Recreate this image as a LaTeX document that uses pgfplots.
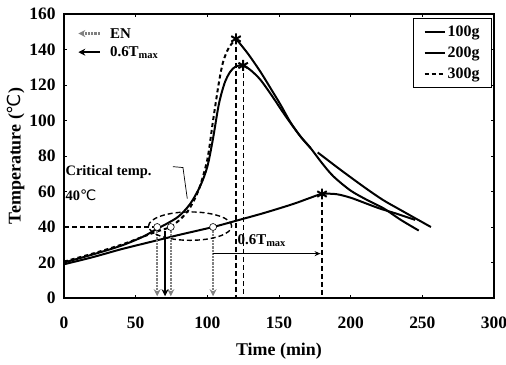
\documentclass[border=0pt]{standalone}
\usepackage{fontspec}
\setmainfont{Liberation Serif}
\newfontfamily\dvs{DejaVu Sans}
\usepackage{pgfplots}
\pgfplotsset{compat=1.18}
\usetikzlibrary{arrows.meta}
\newcommand\degC{{\dvs\mdseries ℃}}
\begin{document}
\begin{tikzpicture}
\begin{axis}[
  name=ax, scale only axis, width=430bp, height=284bp,
  xmin=0, xmax=300, ymin=0, ymax=160,
  xtick={0,50,...,300}, ytick={0,20,...,160},
  /pgf/number format/assume math mode=true,
  tick label style={font=\fontsize{17.5}{17.5}\selectfont\bfseries},
  xticklabel style={yshift=-15bp},
  yticklabel style={xshift=-5bp},
  xlabel={Time (min)}, ylabel={Temperature (\degC)},
  label style={font=\fontsize{18}{18}\selectfont\bfseries},
  xlabel style={yshift=-8bp},
  ylabel style={yshift=-2bp},
  axis line style={line width=1.3pt},
  tick style={black, line width=0.6pt}, major tick length=3bp, tick align=inside,
  legend style={at={(rel axis cs:0.995,0.985)}, anchor=north east, draw=black, line width=0.6pt,
     font=\fontsize{16}{16}\selectfont\bfseries, inner xsep=10bp, inner ysep=5bp, row sep=5bp},
  legend cell align=left,
  legend image code/.code={\draw[#1] (0bp,0bp) -- (20bp,0bp);},
]
% 100g
\addplot[black, line width=2pt, smooth] coordinates {
 (0,19) (20,23) (40,27.5) (60,31.5) (80,35.5) (104,40) (120,43.5) (140,48)
 (160,53) (172,56.5) (180,58.6) (190,58.5) (200,56.5) (210,53.5) (220,50.5)
 (232,47.5) (245,44)};
\addlegendentry{100g}
% 200g
\addplot[black, line width=2pt, smooth] coordinates {
 (0,20) (20,24.5) (40,29.5) (55,34.5) (65,39) (72,42) (80,46) (88,53) (95,63)
 (100,74) (104,90) (108,109) (112,121) (116,127.5) (120,130.5) (125,131)
 (130,128.5) (137,123) (145,114) (155,102) (165,91) (172,84.5)};
\addlegendentry{200g}
% 300g rise
\addplot[black, line width=2pt, dash pattern=on 4bp off 3bp, smooth] coordinates {
 (0,20.5) (20,25) (40,30) (55,34.5) (65,37.5) (74,40) (82,45) (88,51) (94,61)
 (100,78) (104,100) (108,121) (111,133) (115,141) (120,146)};
\addlegendentry{300g}
% 300g decline
\addplot[black, line width=2pt, smooth, forget plot] coordinates {
 (120,146) (128,138) (137,127.5) (145,117) (151,109) (158,99) (165,91)
 (172,84.5) (180,76) (188,68.5) (200,60.5) (212,55) (223,50.5) (235,44) (247.5,38)};
% 200g after gap
\addplot[black, line width=2pt, smooth, forget plot] coordinates {
 (177,82) (190,74) (200,68) (212,61) (223,55) (235,49.5) (246,44.5) (256,40)};
% dashed guide lines
\addplot[black, line width=1.3pt, dash pattern=on 5bp off 3bp, forget plot] coordinates {(0,40) (64,40)};
\addplot[black, line width=1.3pt, dash pattern=on 5bp off 3bp, forget plot] coordinates {(120,146) (120,0)};
\addplot[black, line width=1.3pt, dash pattern=on 5bp off 3bp, forget plot] coordinates {(125,131) (125,0)};
\addplot[black, line width=1.3pt, dash pattern=on 5bp off 3bp, forget plot] coordinates {(180,58.6) (180,0)};
% down arrows (EN, gray dotted)
\addplot[gray, line width=2.2pt, densely dotted, -{Stealth[length=7bp,width=7bp]}, forget plot] coordinates {(65,38) (65,1)};
\addplot[gray, line width=2.2pt, densely dotted, -{Stealth[length=7bp,width=7bp]}, forget plot] coordinates {(74.5,38) (74.5,1)};
\addplot[gray, line width=2.2pt, densely dotted, -{Stealth[length=7bp,width=7bp]}, forget plot] coordinates {(104,38) (104,1)};
% down arrow (0.6Tmax, solid)
\addplot[black, line width=1.6pt, -{Stealth[length=7bp,width=7bp]}, forget plot] coordinates {(70.5,38) (70.5,1)};
% horizontal arrow
\addplot[black, line width=1pt, -{Stealth[length=6bp,width=5bp]}, forget plot] coordinates {(104,25) (179,25)};
% peak markers
\addplot[black, only marks, mark=asterisk, mark size=5.5, mark options={line width=2pt}, forget plot]
 coordinates {(120,146) (125,131) (180,58.6)};
% critical points
\addplot[black, only marks, mark=*, mark size=3.5, mark options={fill=white, draw=black, line width=0.6pt}, forget plot]
 coordinates {(65,40) (74.5,40) (104,40)};
% ellipse
\draw[black, dash pattern=on 5bp off 3bp, line width=1.4pt] (axis cs:88,40.5) ellipse [x radius=29, y radius=8];
% leader line
\draw[black, line width=0.7pt] (axis cs:76,74) -- (axis cs:83,73.5) -- (axis cs:86,56);
% annotations
\node[anchor=west, font=\fontsize{14.5}{14.5}\selectfont\bfseries, inner sep=0pt] at (axis cs:1,71) {Critical temp.};
\node[anchor=west, font=\fontsize{14.5}{14.5}\selectfont\bfseries, inner sep=0pt] at (axis cs:1,58) {40\degC};
\node[anchor=west, font=\fontsize{15}{15}\selectfont\bfseries, inner sep=0pt] at (axis cs:121,32.5) {0.6T\textsubscript{max}};
% upper-left legend
\draw[gray, line width=2.2pt, densely dotted, -{Stealth[length=7bp,width=7bp]}] (axis cs:25,149) -- (axis cs:10,149);
\node[anchor=west, font=\fontsize{15}{15}\selectfont\bfseries, inner sep=0pt] at (axis cs:32,149) {EN};
\draw[black, line width=1.8pt, -{Stealth[length=7bp,width=7bp]}] (axis cs:25,138.5) -- (axis cs:10,138.5);
\node[anchor=west, font=\fontsize{15}{15}\selectfont\bfseries, inner sep=0pt] at (axis cs:32,138.5) {0.6T\textsubscript{max}};
\end{axis}
\pgfresetboundingbox
\path ([shift={(-64bp,-67bp)}]ax.south west) rectangle ([shift={(12bp,14bp)}]ax.north east);
\end{tikzpicture}
\end{document}
